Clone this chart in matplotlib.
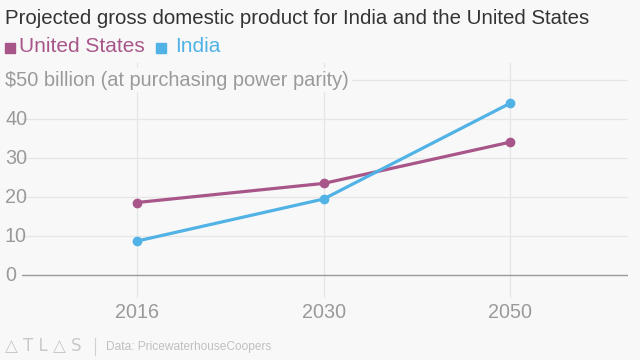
import matplotlib.pyplot as plt
from matplotlib.patches import Rectangle
from matplotlib.transforms import blended_transform_factory

years = ['2016', '2030', '2050']
us_gdp = [18.6, 23.5, 34.1]
india_gdp = [8.7, 19.5, 44.1]
y_ticks = [0, 10, 20, 30, 40]

us_color = '#a8568a'
india_color = '#51b2e6'
bg = '#f8f8f8'
label_gray = '#9a9a9a'

plt.rcParams['font.family'] = ['Liberation Sans', 'DejaVu Sans']

fig = plt.figure(figsize=(6.4, 3.6), dpi=100, facecolor=bg)
ax = fig.add_axes([22 / 640, 1 - 298 / 360, 606 / 640, 235 / 360], facecolor=bg)

x = range(len(years))
ax.plot(x, us_gdp, color=us_color, lw=2.3, marker='o', ms=6, zorder=3)
ax.plot(x, india_gdp, color=india_color, lw=2.3, marker='o', ms=6, zorder=3)

ax.set_xlim(-0.615, 2.63)
ax.set_ylim(-5.9, 54.4)

# grid
for v in y_ticks[1:] + [50]:
    ax.axhline(v, color='#e6e6e6', lw=0.9, zorder=1)
for i in x:
    ax.axvline(i, color='#e6e6e6', lw=0.9, zorder=1)
ax.axhline(0, color='#9a9a9a', lw=1.0, zorder=2)

for s in ax.spines.values():
    s.set_visible(False)
ax.set_xticks([])
ax.set_yticks([])

# y labels on the left edge of the figure
trans = blended_transform_factory(fig.transFigure, ax.transData)
for v in y_ticks:
    ax.text(5 / 640, v, str(v), transform=trans, ha='left', va='center',
            fontsize=14.2, color=label_gray)
ax.text(5 / 640, 50, '$50 billion (at purchasing power parity)', transform=trans,
        ha='left', va='center', fontsize=14.4, color=label_gray, zorder=4,
        bbox=dict(facecolor=bg, edgecolor='none', pad=2))

# x labels
for i, yr in zip(x, years):
    fig.text(ax.transData.transform((i, 0))[0] / 640, 1 - 313 / 360, yr,
             ha='center', va='center', fontsize=14.2, color=label_gray)

# title and legend
fig.text(5 / 640, 1 - 18 / 360, 'Projected gross domestic product for India and the United States',
         ha='left', va='center', fontsize=14.7, color='#333333')
fig.patches.append(Rectangle((5 / 640, 1 - 53 / 360), 10 / 640, 10 / 360,
                             transform=fig.transFigure, color=us_color))
fig.text(19 / 640, 1 - 47 / 360, 'United States', ha='left', va='center',
         fontsize=15, color=us_color)
fig.patches.append(Rectangle((156 / 640, 1 - 53 / 360), 10 / 640, 10 / 360,
                             transform=fig.transFigure, color=india_color))
fig.text(175 / 640, 1 - 47 / 360, 'India', ha='left', va='center',
         fontsize=15, color=india_color)

# footer
fig.text(5 / 640, 1 - 346 / 360, '△ T L △ S', ha='left', va='center', fontsize=12,
         color='#c8c8c8', family=['DejaVu Sans'])
fig.lines.append(plt.Line2D([95 / 640, 95 / 640], [1 - 338 / 360, 1 - 355 / 360],
                            transform=fig.transFigure, color='#d0d0d0', lw=0.8))
fig.text(106 / 640, 1 - 347 / 360, 'Data: PricewaterhouseCoopers', ha='left',
         va='center', fontsize=8.6, color='#c0c0c0')

fig.savefig('out.png', dpi=100, facecolor=bg)
